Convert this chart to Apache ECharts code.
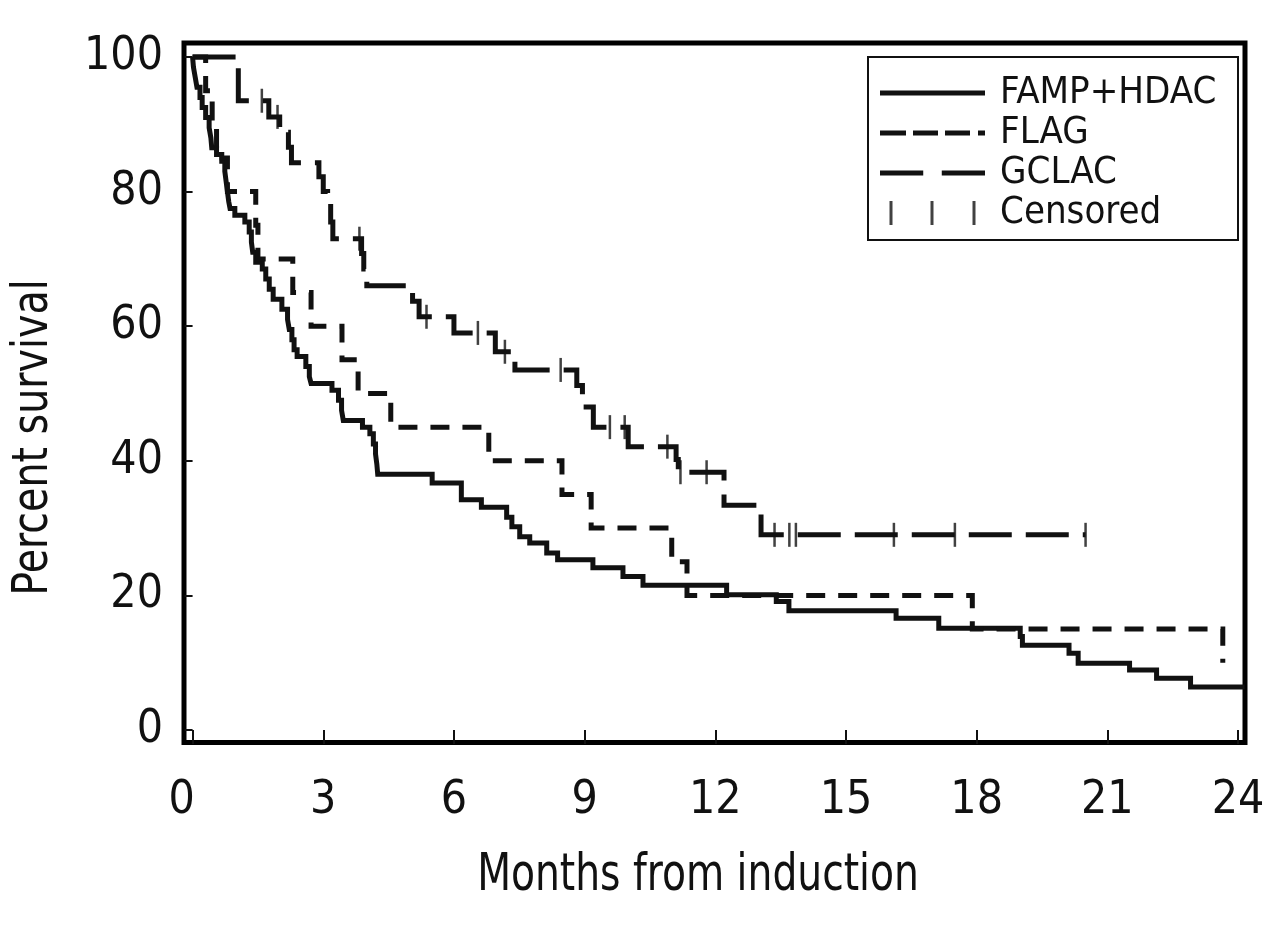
<!DOCTYPE html>
<html>
<head>
<meta charset="utf-8">
<script src="https://cdn.jsdelivr.net/npm/echarts@6/dist/echarts.min.js"></script>
<style>
html,body{margin:0;padding:0;background:#fff;}
#chart{width:1280px;height:925px;}
</style>
</head>
<body>
<div id="chart"></div>
<script>
// ---- data (months, percent survival) ----
var xTicks = [0, 3, 6, 9, 12, 15, 18, 21, 24];
var yTicks = [0, 20, 40, 60, 80, 100];
var seriesNames = ['FAMP+HDAC', 'FLAG', 'GCLAC', 'Censored'];
var xTitle = 'Months from induction';
var yTitle = 'Percent survival';

var fampHdac = [
  [0,100],[0.02,98.5],[0.06,97],[0.1,95.5],[0.17,94],[0.22,92.5],[0.3,91],[0.38,89.5],
  [0.42,88],[0.44,86.5],[0.55,85.5],[0.67,84.5],[0.74,83],[0.77,81.5],[0.8,80],[0.83,78.5],
  [0.86,77.5],[0.97,76.5],[1.2,75.5],[1.3,74],[1.35,72.5],[1.38,71],[1.45,69.5],[1.6,68.5],
  [1.68,67],[1.76,65.5],[1.85,64],[2.05,62.5],[2.18,61],[2.22,59.5],[2.28,58],[2.33,56.5],
  [2.4,55.5],[2.6,54],[2.68,52.5],[2.72,51.5],[3.2,50.5],[3.35,49],[3.42,47.5],[3.46,46],
  [3.9,45],[4.07,44],[4.15,42.5],[4.2,41],[4.23,39.5],[4.25,38],[5.5,36.7],[6.17,34.2],
  [6.63,33.1],[7.21,31.6],[7.33,30.2],[7.51,28.7],[7.74,27.8],[8.13,26.3],[8.38,25.3],
  [9.19,24.1],[9.88,22.8],[10.34,21.5],[12.26,20.1],[13.4,19.1],[13.69,17.7],[16.15,16.6],
  [17.13,15.1],[19.0,13.9],[19.05,12.6],[20.12,11.4],[20.33,9.9],[21.51,8.9],[22.13,7.7],
  [22.91,6.4],[24.15,6.4]
];
var flag = [
  [0,100],[0.3,95],[0.45,90],[0.55,85],[0.8,80],[1.45,75],[1.5,70],[2.3,65],[2.72,60],
  [3.43,55],[3.8,50],[4.55,45],[6.8,40],[8.48,35],[9.15,30],[11.0,25],[11.35,20],
  [17.9,15],[23.65,10]
];
var gclac = [
  [0,100],[1.05,93.5],[1.75,91.1],[2.0,88.8],[2.2,86.6],[2.27,84.3],[2.9,82.2],[3.0,80],
  [3.1,77.8],[3.17,75.5],[3.22,73.0],[3.88,70.8],[3.93,68.5],[4.0,66.0],[5.05,63.7],
  [5.2,61.4],[6.0,59.0],[6.95,56.2],[7.4,53.5],[8.82,51.2],[8.95,48.0],[9.2,45.0],
  [10.0,42.1],[11.1,40.2],[11.15,38.3],[12.2,33.4],[13.05,29.0],[20.5,29.0]
];
var gclacCensored = [
  [1.59,93.5],[1.95,91.1],[3.83,73.0],[5.37,61.4],[6.55,59.0],[7.17,56.2],[8.45,53.5],
  [9.58,45.0],[9.92,45.0],[10.9,42.1],[11.2,38.3],[11.8,38.3],[13.36,29.0],[13.7,29.0],
  [13.85,29.0],[16.1,29.0],[17.5,29.0],[20.5,29.0]
];

// ---- chart ----
var FONT = "'Liberation Sans Narrow', 'DejaVu Sans Condensed', 'Arial Narrow', sans-serif";
var INK = '#111';
var chart = echarts.init(document.getElementById('chart'), null, {renderer: 'canvas'});

var option = {
  animation: false,
  backgroundColor: '#ffffff',
  textStyle: {fontFamily: FONT, color: INK},
  grid: {
    left: 184, right: 35, top: 43, bottom: 182.5,
    show: true, borderColor: '#000', borderWidth: 5, backgroundColor: 'transparent'
  },
  xAxis: {
    type: 'value', min: -0.197, max: 24.16,
    axisLine: {show: false},
    splitLine: {show: false},
    axisTick: {show: true, customValues: xTicks, length: 14, lineStyle: {color: INK, width: 2}},
    axisLabel: {
      customValues: xTicks, fontFamily: FONT, fontSize: 46, color: INK, margin: 36,
      formatter: function (v) { return v === 0 ? '{z|0}' : String(v); },
      rich: {z: {fontFamily: FONT, fontSize: 46, color: INK, padding: [0, 22, 0, 0]}}
    }
  },
  yAxis: {
    type: 'value', min: -1.86, max: 102.08,
    axisLine: {show: false},
    splitLine: {show: false},
    axisTick: {show: true, customValues: yTicks, length: 8, lineStyle: {color: INK, width: 2}},
    axisLabel: {customValues: yTicks, fontFamily: FONT, fontSize: 46, color: INK, margin: 21}
  },
  legend: {
    orient: 'vertical', left: 868, top: 57,
    padding: [17, 12, 12, 12],
    itemWidth: 105, itemHeight: 24, itemGap: 2,
    textStyle: {fontFamily: FONT, fontSize: 38, color: INK, padding: [0, 0, 0, 10]},
    data: [
      {name: seriesNames[0], icon: 'path://M0 0h105v5h-105z'},
      {name: seriesNames[1], icon: 'path://M0 0h26v5h-26zM33 0h25v5h-25zM65 0h25v5h-25zM98 0h7v5h-7z'},
      {name: seriesNames[2], icon: 'path://M0 0h42v5h-42zM60 0h42v5h-42z'},
      {name: seriesNames[3], icon: 'path://M12 0h3v24h-3zM53 0h3v24h-3zM95 0h3v24h-3z'}
    ]
  },
  graphic: [
    {
      type: 'rect', z: -1,
      shape: {x: 868, y: 57, width: 370, height: 183},
      style: {fill: '#fff', stroke: INK, lineWidth: 2}
    },
    {
      type: 'text', x: 698, y: 877, scaleX: 0.855,
      style: {text: xTitle, fontFamily: FONT, fontSize: 51, fill: INK, align: 'center', verticalAlign: 'middle'}
    },
    {
      type: 'text', x: 34, y: 437.5, rotation: Math.PI / 2, scaleX: 0.88,
      style: {text: yTitle, fontFamily: FONT, fontSize: 50, fill: INK, align: 'center', verticalAlign: 'middle'}
    }
  ],
  series: [
    {
      name: seriesNames[0], type: 'line', step: 'end', data: fampHdac, showSymbol: false,
      symbol: 'none', color: INK,
      lineStyle: {color: INK, width: 5, cap: 'butt', join: 'miter'}
    },
    {
      name: seriesNames[1], type: 'line', step: 'end', data: flag, showSymbol: false,
      symbol: 'none', color: INK,
      lineStyle: {color: INK, width: 5, type: [19, 13], cap: 'butt', join: 'miter'}
    },
    {
      name: seriesNames[2], type: 'line', step: 'end', data: gclac, showSymbol: false,
      symbol: 'none', color: INK,
      lineStyle: {color: INK, width: 5, type: [43, 14], cap: 'butt', join: 'miter'}
    },
    {
      name: seriesNames[3], type: 'scatter', data: gclacCensored,
      symbol: 'rect', symbolSize: [2.5, 24], color: INK,
      itemStyle: {color: INK}
    }
  ]
};
chart.setOption(option);
</script>
</body>
</html>
